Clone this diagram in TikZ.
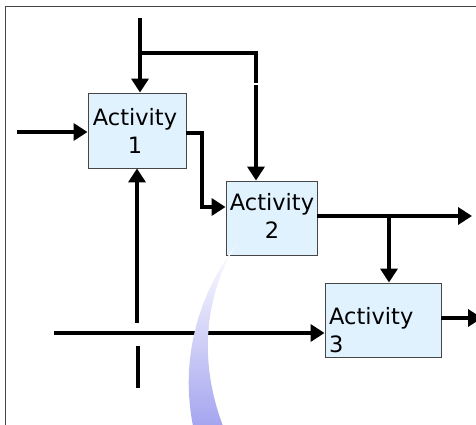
\documentclass[tikz,border=0pt]{standalone}
\usepackage{fontspec}
\setmainfont{DejaVu Sans}
\usetikzlibrary{arrows.meta,calc}
\definecolor{boxfill}{RGB}{224,242,254}
\definecolor{boxline}{RGB}{70,70,70}
\definecolor{crescent}{RGB}{165,165,240}
\tikzset{
  actbox/.style={draw=boxline,line width=0.9pt,fill=boxfill,inner sep=0pt},
  acttext/.style={font=\fontsize{22.5}{28}\selectfont,inner sep=0pt},
  flow/.style={line width=4.5pt,-{Triangle[length=14pt,width=17pt]}},
  plain/.style={line width=4.5pt},
}
\begin{document}
\begin{tikzpicture}[x=1pt,y=-1pt]
\useasboundingbox (0,0) rectangle (476,425);
\draw[boxline,line width=0.8pt] (5,6) rectangle (490,440);
% boxes
\node[actbox,minimum width=98pt,minimum height=75pt] (b1) at (137,130.5) {};
\node[actbox,minimum width=91pt,minimum height=74pt] (b2) at (271.5,218) {};
\node[actbox,minimum width=116pt,minimum height=74pt] (b3) at (383,320) {};
\node[acttext,align=center] (t1) at (135,131) {Activity\\1};
\node[acttext,align=center] (t2) at (272,216) {Activity\\2};
\node[acttext,align=left,anchor=west] (t3) at (329,330) {Activity\\3};
% coordinates
\coordinate (top) at (140,18);
\coordinate (gapA) at (256,83);
\coordinate (gapB) at (256,85);
\coordinate (inL) at (17,132);
\coordinate (out2) at (472,216);
\coordinate (br2) at (389,216);
\coordinate (out3) at (482,318);
\coordinate (inB) at (54,333);
\coordinate (vUp) at (137,323);
\coordinate (vLowA) at (138,346);
\coordinate (vLowB) at (138,388);
% connectors
\draw[flow] (top) -- (b1.north -| top);
\draw[plain] (140,53) -| (gapA);
\draw[flow] (gapB) -- (b2.north -| gapB);
\draw[flow] (inL) -- (b1.west |- inL);
\draw[flow] (b1.east |- 0,133) -| (202,207) -- (b2.west |- 0,207);
\draw[flow] (b2.east |- out2) -- (out2);
\draw[flow] (br2) -- (b3.north -| br2);
\draw[flow] (b3.east |- out3) -- (out3);
\draw[flow] (inB) -- (b3.west |- inB);
\draw[flow] (vUp) -- (b1.south -| vUp);
\draw[plain] (vLowA) -- (vLowB);
% crescent
\shade[top color=white,bottom color=crescent]
  (236,245) .. controls (205,285) and (178,350) .. (193,426)
  -- (223,426) .. controls (198,360) and (205,295) .. (236,245) -- cycle;
\end{tikzpicture}
\end{document}
